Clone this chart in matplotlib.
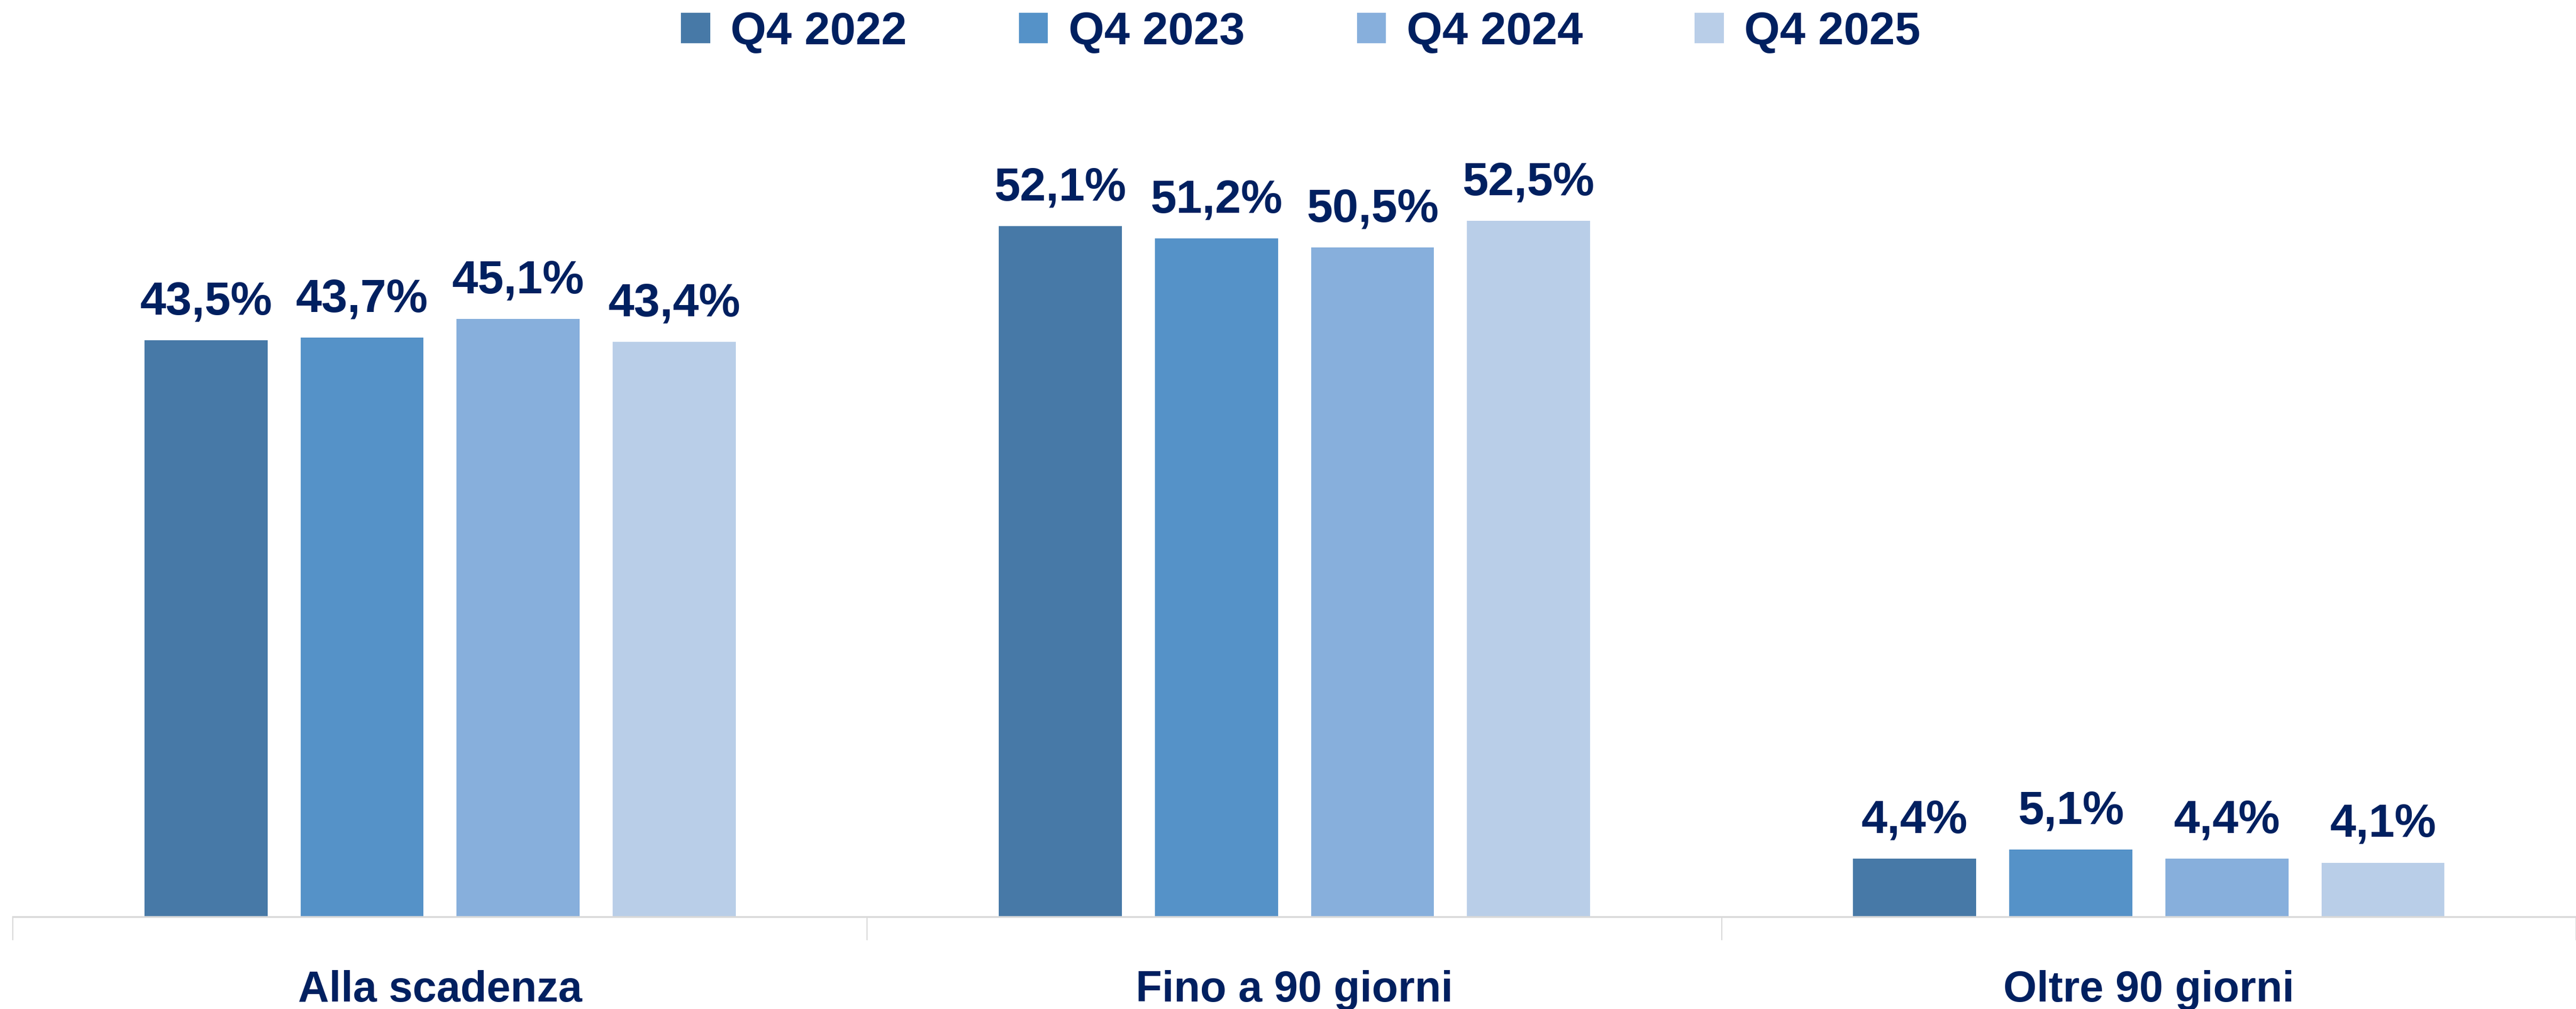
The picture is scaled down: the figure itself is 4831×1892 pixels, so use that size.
import numpy as np
import matplotlib
matplotlib.use('Agg')
import matplotlib.pyplot as plt
from matplotlib.ticker import FixedLocator

categories = ['Alla scadenza', 'Fino a 90 giorni', 'Oltre 90 giorni']
series = ['Q4 2022', 'Q4 2023', 'Q4 2024', 'Q4 2025']
q4_2022 = [43.5, 52.1, 4.4]
q4_2023 = [43.7, 51.2, 5.1]
q4_2024 = [45.1, 50.5, 4.4]
q4_2025 = [43.4, 52.5, 4.1]

colors = ['#4779A7', '#5592C8', '#87AFDC', '#B9CEE8']
navy = '#002060'

plt.rcParams['font.family'] = ['Liberation Sans', 'DejaVu Sans']
plt.rcParams['font.weight'] = 'bold'

fig = plt.figure(figsize=(48.31, 18.92), dpi=100)
ax = fig.add_axes([0.005, 0.0912, 0.995, 0.7883])

x = np.arange(len(categories))
step = 0.1827
width = 0.144
for i, (name, vals) in enumerate(zip(series, [q4_2022, q4_2023, q4_2024, q4_2025])):
    pos = x + (i - 1.5) * step
    bars = ax.bar(pos, vals, width, color=colors[i], label=name)
    for b, v in zip(bars, vals):
        ax.annotate(f"{v:.1f}%".replace('.', ','),
                    (b.get_x() + b.get_width() / 2, v),
                    xytext=(0, 22), textcoords='offset points',
                    ha='center', va='bottom', fontsize=63,
                    fontweight='bold', color=navy)

ax.set_xlim(-0.5, 2.5)
ax.set_ylim(0, 60)
ax.set_yticks([])
for s in ['top', 'right', 'left']:
    ax.spines[s].set_visible(False)
ax.spines['bottom'].set_color('#D9D9D9')
ax.spines['bottom'].set_linewidth(2.5)

ax.set_xticks(x)
ax.set_xticklabels(categories, fontsize=58, fontweight='bold', color=navy)
ax.tick_params(axis='x', which='major', length=0, pad=72)
ax.xaxis.set_minor_locator(FixedLocator([-0.5, 0.5, 1.5, 2.5]))
ax.tick_params(axis='x', which='minor', length=32, width=1.5, color='#D9D9D9')

fig.legend(loc='upper center', bbox_to_anchor=(0.505, 1.03), ncol=4, frameon=False,
           handlelength=0.63, handleheight=0.63, handletextpad=0.45,
           columnspacing=2.44, labelcolor=navy, prop={'weight': 'bold', 'size': 62})

fig.savefig('out.png', dpi=100, facecolor='white')
